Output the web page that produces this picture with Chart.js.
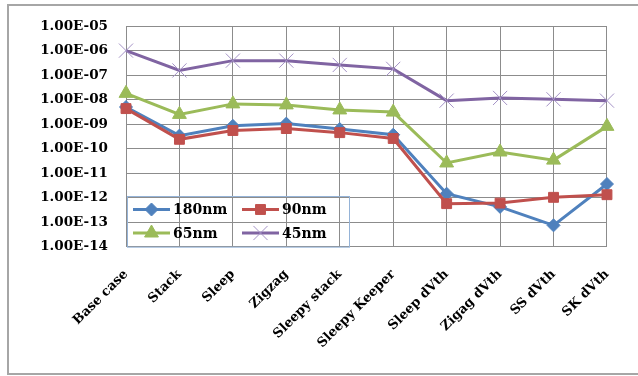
<!DOCTYPE html>
<html>
<head>
<meta charset="utf-8">
<script src="https://cdn.jsdelivr.net/npm/chart.js@4.4.1/dist/chart.umd.min.js"></script>
<style>
  html, body { margin: 0; padding: 0; background: #ffffff; }
  #wrap { position: relative; width: 638px; height: 376px; }
</style>
</head>
<body>
<div id="wrap"><canvas id="c" width="638" height="376"></canvas></div>
<script>
// Leakage current per technique and technology node (log scale)
const categories = ['Base case', 'Stack', 'Sleep', 'Zigzag', 'Sleepy stack', 'Sleepy Keeper',
                    'Sleep dVth', 'Zigag dVth', 'SS dVth', 'SK dVth'];
const seriesNames = ['180nm', '90nm', '65nm', '45nm'];
const nm180 = [5.0e-9, 3.4e-10, 8.5e-10, 1.05e-9, 6.3e-10, 3.7e-10, 1.45e-12, 4.2e-13, 7.4e-14, 3.6e-12];
const nm90  = [4.3e-9, 2.4e-10, 5.5e-10, 6.6e-10, 4.5e-10, 2.6e-10, 5.7e-13, 6.0e-13, 1.03e-12, 1.32e-12];
const nm65  = [1.8e-8, 2.5e-9, 6.7e-9, 6.1e-9, 3.8e-9, 3.1e-9, 2.6e-11, 7.3e-11, 3.4e-11, 8.1e-10];
const nm45  = [1.0e-6, 1.55e-7, 3.9e-7, 3.9e-7, 2.6e-7, 1.8e-7, 9.1e-9, 1.17e-8, 1.03e-8, 9.1e-9];
const yTicks = [1e-14, 1e-13, 1e-12, 1e-11, 1e-10, 1e-9, 1e-8, 1e-7, 1e-6, 1e-5];

const FAMILY = '"DejaVu Serif", "Liberation Serif", serif';
const FONT = { family: FAMILY, size: 13, weight: 'bold' };
const YFONT = { family: FAMILY, size: 13.5, weight: 'bold' };
const LEGEND_SIZE = 14;
const GRID = '#8c8c8c';

function sci(v) {
  const e = Math.round(Math.log10(v));
  const m = v / Math.pow(10, e);
  const s = e < 0 ? '-' : '+';
  return m.toFixed(2) + 'E' + s + String(Math.abs(e)).padStart(2, '0');
}

// Outer frame behind the chart
const framePlugin = {
  id: 'frame',
  beforeDraw(chart) {
    const ctx = chart.ctx;
    ctx.save();
    ctx.fillStyle = '#ffffff';
    ctx.fillRect(0, 0, chart.width, chart.height);
    ctx.strokeStyle = '#a6a6a6';
    ctx.lineWidth = 2;
    ctx.strokeRect(8, 5, chart.width + 10, 369);
    ctx.restore();
  }
};

// Legend drawn inside the plot area, two columns
const insideLegend = {
  id: 'insideLegend',
  afterDatasetsDraw(chart) {
    const ctx = chart.ctx;
    const a = chart.chartArea;
    const x0 = a.left + 1, y0 = 196, w = 222, h = a.bottom - 196;
    ctx.save();
    ctx.strokeStyle = '#95b3d7';
    ctx.lineWidth = 1;
    ctx.strokeRect(x0 + 0.5, y0 + 0.5, w, h);
    ctx.font = `bold ${LEGEND_SIZE}px ${FAMILY}`;
    ctx.textBaseline = 'middle';
    ctx.textAlign = 'left';
    chart.data.datasets.forEach((ds, i) => {
      const col = i % 2, row = Math.floor(i / 2);
      const lx = x0 + 6 + col * 109;
      const ly = y0 + 13.5 + row * 23.5;
      ctx.strokeStyle = ds.borderColor;
      ctx.lineWidth = 3;
      ctx.beginPath();
      ctx.moveTo(lx, ly);
      ctx.lineTo(lx + 37, ly);
      ctx.stroke();
      ctx.fillStyle = ds.pointBackgroundColor;
      ctx.strokeStyle = ds.pointBorderColor;
      ctx.lineWidth = ds.pointBorderWidth;
      Chart.helpers.drawPoint(ctx, {
        pointStyle: ds.pointStyle,
        radius: ds.pointRadius,
        borderWidth: ds.pointBorderWidth
      }, lx + 18.5, ly);
      ctx.fillStyle = '#000000';
      ctx.fillText(ds.label, lx + 40, ly + 1);
    });
    ctx.restore();
  }
};

function series(label, data, color, style, radius, order, markerColor) {
  return {
    label, data, order,
    borderColor: color,
    backgroundColor: markerColor || color,
    borderWidth: 3,
    pointStyle: style,
    pointRadius: radius,
    pointHoverRadius: radius,
    pointBackgroundColor: markerColor || color,
    pointBorderColor: markerColor || color,
    pointBorderWidth: 1,
    tension: 0
  };
}

new Chart(document.getElementById('c'), {
  type: 'line',
  data: {
    labels: categories,
    datasets: [
      series(seriesNames[0], nm180, '#4f81bd', 'rectRot', 6.5, 4),
      series(seriesNames[1], nm90,  '#c0504d', 'rect', 7, 3),
      series(seriesNames[2], nm65,  '#9bbb59', 'triangle', 8, 2),
      series(seriesNames[3], nm45,  '#8064a2', 'crossRot', 10, 1, '#a593c7')
    ]
  },
  options: {
    responsive: false,
    animation: false,
    devicePixelRatio: 1,
    layout: { padding: { top: 24.67, right: 30, bottom: 0, left: 0 } },
    plugins: { legend: { display: false }, tooltip: { enabled: false } },
    scales: {
      x: {
        type: 'category',
        offset: false,
        grid: { color: GRID, lineWidth: 1, drawTicks: false },
        border: { color: GRID },
        ticks: {
          color: '#000000', font: FONT,
          minRotation: 45, maxRotation: 45, padding: 20, autoSkip: false
        },
        afterFit(scale) { scale.height = 376 - 246.67; }
      },
      y: {
        type: 'logarithmic',
        min: yTicks[0], max: yTicks[yTicks.length - 1],
        grid: { color: GRID, lineWidth: 1, drawTicks: false },
        border: { color: GRID },
        afterBuildTicks(scale) { scale.ticks = yTicks.map(v => ({ value: v })); },
        ticks: {
          color: '#000000', font: YFONT, padding: 18,
          callback: (v) => sci(v)
        },
        afterFit(scale) { scale.width = 126; }
      }
    }
  },
  plugins: [framePlugin, insideLegend]
});
</script>
</body>
</html>
